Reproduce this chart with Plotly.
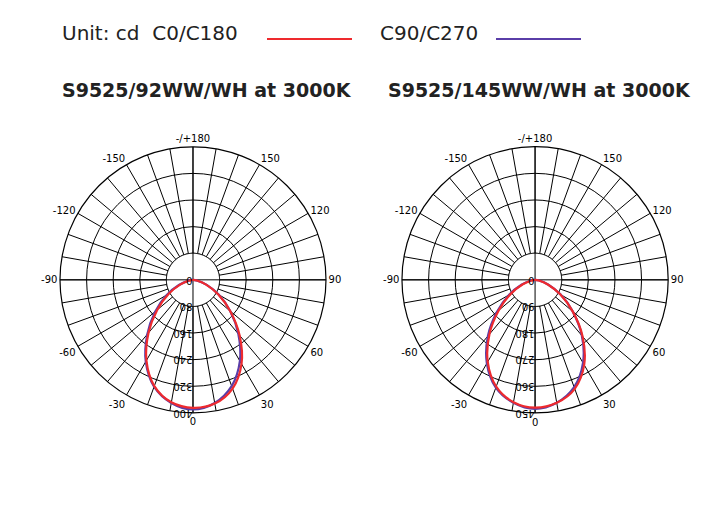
import plotly.graph_objects as go

angles = [0, 10, 20, 30, 40, 50, 60, 70, 80, 90]
left_c0 = [385, 378, 348, 292, 218, 146, 88, 42, 12, 0]
left_c180 = [385, 374, 340, 280, 208, 140, 84, 40, 11, 0]
left_c90 = [390, 376, 340, 282, 212, 146, 90, 44, 13, 0]
left_c270 = [390, 376, 342, 284, 214, 148, 92, 45, 13, 0]
right_c0 = [432, 422, 392, 332, 250, 166, 98, 46, 13, 0]
right_c180 = [432, 420, 384, 320, 240, 160, 95, 44, 12, 0]
right_c90 = [436, 422, 386, 324, 246, 166, 100, 48, 14, 0]
right_c270 = [436, 422, 388, 326, 248, 168, 102, 49, 14, 0]
titles = ["S9525/92WW/WH at 3000K", "S9525/145WW/WH at 3000K"]
radial_ticks = [[0, 80, 160, 240, 320, 400], [0, 90, 180, 270, 360, 450]]

RED = "#ee2a2e"
BLUE = "#5a3ea8"
fig = go.Figure()

def both_sides(pos, neg):
    th = [-a for a in reversed(angles)] + angles[1:]
    r = list(reversed(neg)) + pos[1:]
    return [t % 360 for t in th], r

tv = list(range(0, 360, 10))
lab = {0: "0", 30: "30", 60: "60", 90: "90", 120: "120", 150: "150", 180: "-/+180",
       210: "-150", 240: "-120", 270: "-90", 300: "-60", 330: "-30"}
tt = [lab.get(v, "") for v in tv]

sets = [(left_c0, left_c180, left_c90, left_c270), (right_c0, right_c180, right_c90, right_c270)]
for i, (c0, c180, c90, c270) in enumerate(sets):
    pid = "polar" if i == 0 else "polar2"
    rt = radial_ticks[i]
    rmax = rt[-1]
    step = rt[1]
    fig.add_trace(go.Scatterpolar(r=[step] * 361, theta=list(range(361)), mode="lines", fill="toself",
                                  fillcolor="white", line=dict(color="black", width=1), subplot=pid,
                                  showlegend=False, hoverinfo="skip"))
    for a in (0, 90):
        fig.add_trace(go.Scatterpolar(r=[rmax, 0, rmax], theta=[a, a, a + 180], mode="lines",
                                      line=dict(color="black", width=1), subplot=pid,
                                      showlegend=False, hoverinfo="skip"))
    th, r = both_sides(c90, c270)
    fig.add_trace(go.Scatterpolar(r=r, theta=th, mode="lines", line=dict(color=BLUE, width=2.2, shape="spline"),
                                  subplot=pid, showlegend=False))
    th, r = both_sides(c0, c180)
    fig.add_trace(go.Scatterpolar(r=r, theta=th, mode="lines", line=dict(color=RED, width=2.2, shape="spline"),
                                  subplot=pid, showlegend=False))

def polar_layout(dom_x, rt):
    return dict(
        domain=dict(x=dom_x, y=[0.206, 0.728]),
        bgcolor="white",
        radialaxis=dict(range=[0, rt[-1]], tickvals=rt, ticktext=[str(v) for v in rt], angle=270,
                        tickangle=90, showline=False, gridcolor="black", gridwidth=1, ticks="",
                        tickfont=dict(family="DejaVu Sans", size=10, color="black"), layer="above traces"),
        angularaxis=dict(rotation=270, direction="counterclockwise", tickvals=tv, ticktext=tt,
                         gridcolor="black", gridwidth=1, showline=True, linecolor="black", linewidth=1.2,
                         ticks="", tickfont=dict(family="DejaVu Sans", size=10, color="black")),
    )

fig.update_layout(
    width=728, height=510, paper_bgcolor="white", plot_bgcolor="white",
    margin=dict(l=0, r=0, t=0, b=0),
    polar=polar_layout([0.0714, 0.4368], radial_ticks[0]),
    polar2=polar_layout([0.541, 0.907], radial_ticks[1]),
    showlegend=False,
)

ann = [
    dict(text="Unit: cd  C0/C180", x=52 / 728, y=1 - 25 / 510, font=dict(size=20, family="DejaVu Sans", color="#222")),
    dict(text="C90/C270", x=370 / 728, y=1 - 25 / 510, font=dict(size=20, family="DejaVu Sans", color="#222")),
    dict(text="<b>" + titles[0] + "</b>", x=52 / 728, y=1 - 82 / 510, font=dict(size=19, family="DejaVu Sans", color="#222")),
    dict(text="<b>" + titles[1] + "</b>", x=378 / 728, y=1 - 82 / 510, font=dict(size=19, family="DejaVu Sans", color="#222")),
]
for a in ann:
    a.update(xref="paper", yref="paper", xanchor="left", yanchor="middle", showarrow=False)
fig.update_layout(annotations=ann)
fig.add_shape(type="line", xref="paper", yref="paper", x0=259 / 728, x1=344 / 728,
              y0=1 - 31 / 510, y1=1 - 31 / 510, line=dict(color=RED, width=2))
fig.add_shape(type="line", xref="paper", yref="paper", x0=488 / 728, x1=573 / 728,
              y0=1 - 31 / 510, y1=1 - 31 / 510, line=dict(color=BLUE, width=2))

fig.write_html("out.html")
